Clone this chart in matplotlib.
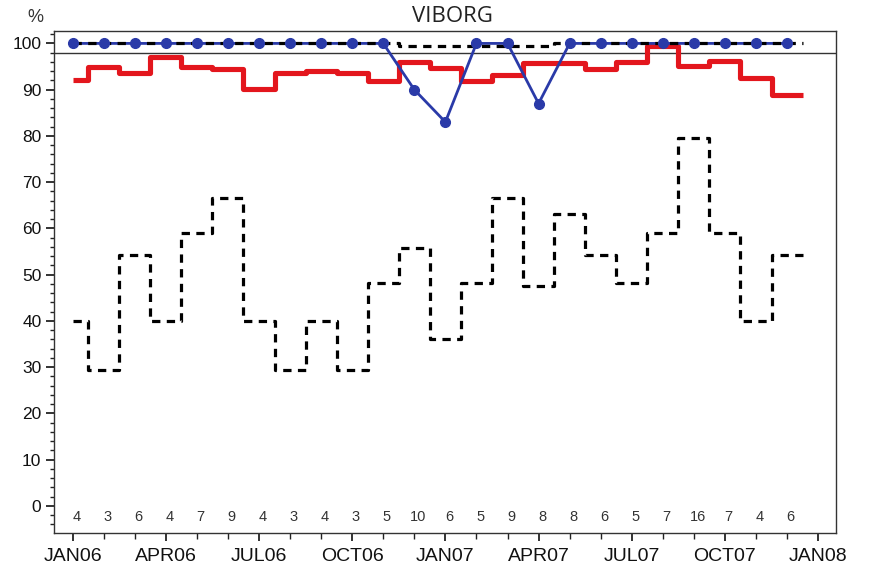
import numpy as np
from matplotlib import pyplot as plt
from matplotlib.ticker import MultipleLocator

# Monatsindex 0 = JAN06 ... 23 = DEC07
months = np.arange(24)

red_values = [92.0, 95.0, 93.7, 97.0, 95.0, 94.4, 90.1, 93.5, 94.0, 93.5, 91.8, 95.9,
              94.7, 91.9, 93.1, 95.8, 95.8, 94.5, 96.0, 99.4, 95.1, 96.2, 92.6, 88.8]

blue_values = [100, 100, 100, 100, 100, 100, 100, 100, 100, 100, 100, 90,
               83, 100, 100, 87, 100, 100, 100, 100, 100, 100, 100, 100]

top_dashed_values = [100, 100, 100, 100, 100, 100, 100, 100, 100, 100, 100, 99.5,
                     99.5, 99.5, 99.5, 99.5, 100, 100, 100, 100, 100, 100, 100, 100]

low_dashed_values = [40, 29.4, 54.2, 40, 59.1, 66.5, 40, 29.4, 40, 29.4, 48.1, 55.7,
                     36.1, 48.1, 66.5, 47.6, 63.2, 54.2, 48.1, 59.1, 79.5, 59.1, 40, 54.2]

counts = [4, 3, 6, 4, 7, 9, 4, 3, 4, 3, 5, 10, 6, 5, 9, 8, 8, 6, 5, 7, 16, 7, 4, 6]

tick_labels = ["JAN06", "APR06", "JUL06", "OCT06", "JAN07", "APR07", "JUL07", "OCT07", "JAN08"]

ref_line = 98


def stepped(values):
    # letzte Stufe um einen halben Monat verlaengern
    return np.append(months, months[-1] + 0.5), np.append(values, values[-1])


fig = plt.figure(figsize=(8.72, 5.71), dpi=100)
ax = fig.add_axes([0.0619, 0.0665, 0.897, 0.879])

ax.axhline(ref_line, color="#333333", lw=1.0, zorder=1)

x, y = stepped(red_values)
ax.plot(x, y, drawstyle="steps-mid", color="#e3161d", lw=3.7, solid_capstyle="butt", zorder=2)

x, y = stepped(low_dashed_values)
ax.plot(x, y, drawstyle="steps-mid", color="black", lw=2.3, dashes=(2.6, 2.0), zorder=2)

ax.plot(months, blue_values, color="#2a3aa8", lw=2.0, zorder=3)

x, y = stepped(top_dashed_values)
ax.plot(x, y, drawstyle="steps-mid", color="black", lw=2.3, dashes=(2.6, 2.0), zorder=4)

ax.plot(months, blue_values, linestyle="none", marker="o", markersize=7,
        color="#2a3aa8", zorder=5)

# Anzahl pro Monat unten
for i, c in enumerate(counts):
    ax.text(months[i] + 0.12, -2.4, str(c), ha="center", va="center",
            fontsize=10.5, color="#333333", family="Liberation Sans")

ax.set_xlim(-0.6, 24.58)
ax.set_ylim(-5.9, 102.66)

ax.set_xticks(np.arange(0, 25, 3))
ax.set_xticklabels(tick_labels)
ax.xaxis.set_minor_locator(MultipleLocator(1))
ax.set_yticks(np.arange(0, 101, 10))
ax.yaxis.set_minor_locator(MultipleLocator(2))

for lab in ax.get_xticklabels():
    lab.set_family("Liberation Sans")
    lab.set_fontsize(14)
for lab in ax.get_yticklabels():
    lab.set_family("Liberation Sans")
    lab.set_fontsize(12.5)

ax.tick_params(axis="x", which="major", length=6, width=1.2, pad=5, colors="#111111")
ax.tick_params(axis="x", which="minor", length=4, width=1.0, colors="#222222")
ax.tick_params(axis="y", which="major", length=6, width=1.2, pad=3, colors="#111111")
ax.tick_params(axis="y", which="minor", length=3, width=1.0, colors="#222222")

for s in ax.spines.values():
    s.set_color("#333333")
    s.set_linewidth(1.0)

fig.text(35 / 872, 1 - 17 / 571, "%", ha="center", va="center", fontsize=13,
         color="#333333", family="Liberation Sans")
fig.text(452 / 872, 1 - 17 / 571, "VIBORG", ha="center", va="center", fontsize=16,
         color="#222222", family="Open Sans")

fig.savefig("out.png", dpi=100)
